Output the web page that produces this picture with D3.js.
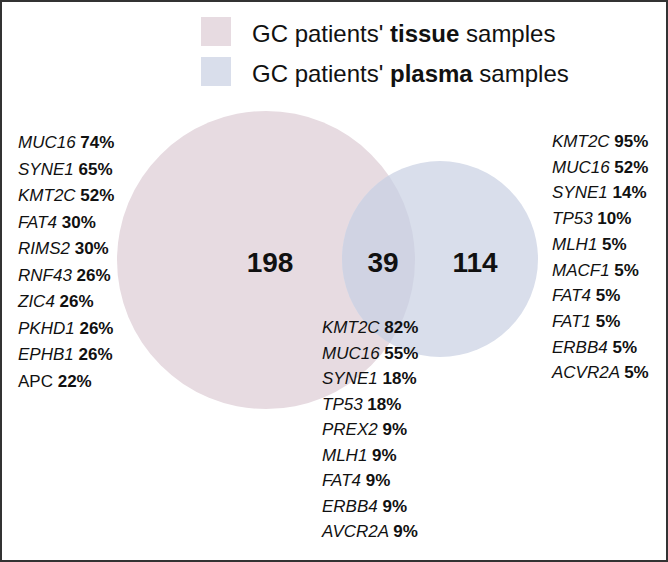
<!DOCTYPE html>
<html><head><meta charset="utf-8">
<script src="https://cdn.jsdelivr.net/npm/d3@7/dist/d3.min.js"></script>
<style>
html,body{margin:0;padding:0;background:#fff;}
svg{display:block;font-family:"Liberation Sans",Arial,Helvetica,sans-serif;}
</style></head>
<body>
<script>
// ---- data ----
const setNames = ["tissue", "plasma"];
const legendPrefix = "GC patients' ";
const legendSuffix = " samples";
const counts = [198, 39, 114]; // tissue only, shared, plasma only

const tissueGenes = ["MUC16","SYNE1","KMT2C","FAT4","RIMS2","RNF43","ZIC4","PKHD1","EPHB1","APC"];
const tissuePct   = [74,65,52,30,30,26,26,26,26,22];
const tissueItalic = [true,true,true,true,true,true,true,true,true,false];

const plasmaGenes = ["KMT2C","MUC16","SYNE1","TP53","MLH1","MACF1","FAT4","FAT1","ERBB4","ACVR2A"];
const plasmaPct   = [95,52,14,10,5,5,5,5,5,5];

const sharedGenes = ["KMT2C","MUC16","SYNE1","TP53","PREX2","MLH1","FAT4","ERBB4","AVCR2A"];
const sharedPct   = [82,55,18,18,9,9,9,9,9];

// ---- layout ----
const W = 668, H = 562;
const svg = d3.select("body").append("svg").attr("width", W).attr("height", H);

const colors = {tissue: "#e7dbe1", plasma: "#d9deeb", overlap: "#d0d3e3"};
const circles = [
  {name: "tissue", cx: 266, cy: 260, r: 149},
  {name: "plasma", cx: 440, cy: 259, r: 98}
];

const defs = svg.append("defs");
defs.append("clipPath").attr("id", "clipT")
  .append("circle").attr("cx", circles[0].cx).attr("cy", circles[0].cy).attr("r", circles[0].r);

svg.selectAll("circle.set").data(circles).join("circle")
  .attr("class", "set")
  .attr("cx", d => d.cx).attr("cy", d => d.cy).attr("r", d => d.r)
  .attr("fill", d => colors[d.name]);

svg.append("circle")
  .attr("cx", circles[1].cx).attr("cy", circles[1].cy).attr("r", circles[1].r)
  .attr("clip-path", "url(#clipT)")
  .attr("fill", colors.overlap);

// counts
const countX = [270, 383, 475];
svg.selectAll("text.count").data(counts).join("text")
  .attr("class", "count")
  .attr("x", (d, i) => countX[i]).attr("y", 272)
  .attr("text-anchor", "middle")
  .attr("font-size", 28).attr("font-weight", "bold").attr("fill", "#111")
  .text(d => d);

// legend
const lg = svg.append("g");
setNames.forEach((n, i) => {
  const y0 = 17 + i * 40;
  lg.append("rect").attr("x", 201).attr("y", y0).attr("width", 30).attr("height", 29)
    .attr("fill", colors[n]);
  const t = lg.append("text").attr("x", 252).attr("y", y0 + 25)
    .attr("font-size", 24).attr("fill", "#111");
  t.append("tspan").text(legendPrefix);
  t.append("tspan").attr("font-weight", "bold").text(n);
  t.append("tspan").text(legendSuffix);
});

// gene lists
function geneList(x, y0, step, genes, pcts, italic) {
  const g = svg.append("g");
  genes.forEach((gn, i) => {
    const t = g.append("text").attr("x", x).attr("y", y0 + i * step)
      .attr("font-size", 17).attr("fill", "#111");
    t.append("tspan").attr("font-style", (italic ? italic[i] : true) ? "italic" : "normal").text(gn + " ");
    t.append("tspan").attr("font-weight", "bold").text(pcts[i] + "%");
  });
}
geneList(18, 148, 26.5, tissueGenes, tissuePct, tissueItalic);
geneList(552, 147, 25.7, plasmaGenes, plasmaPct);
geneList(322, 333, 25.5, sharedGenes, sharedPct);

// frame
svg.append("rect").attr("x", 1).attr("y", 1).attr("width", W - 2).attr("height", H - 2)
  .attr("fill", "none").attr("stroke", "#333").attr("stroke-width", 2);
</script>
</body></html>
